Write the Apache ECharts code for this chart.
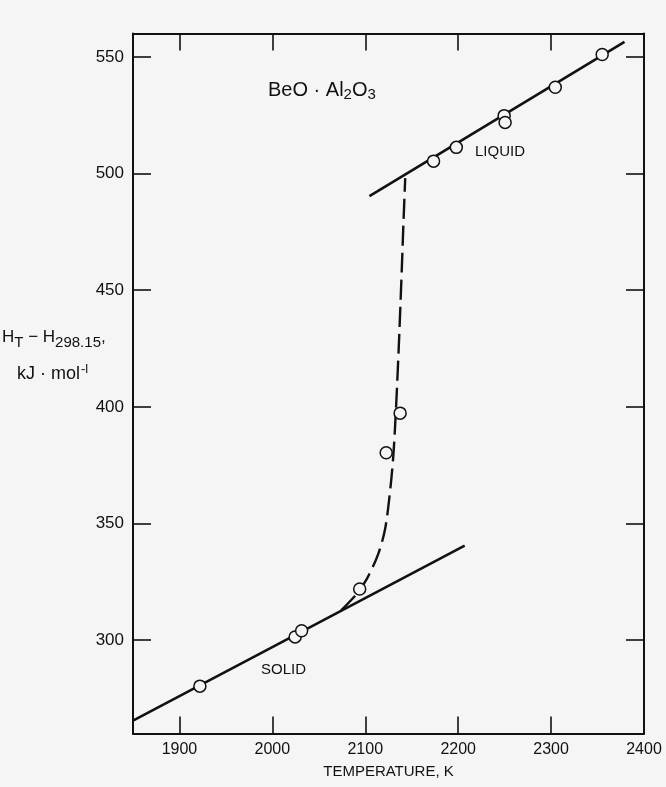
<!DOCTYPE html>
<html>
<head>
<meta charset="utf-8">
<script src="https://cdn.jsdelivr.net/npm/echarts@6/dist/echarts.min.js"></script>
<style>
  html, body { margin: 0; padding: 0; background: #f5f5f5; }
  #main { width: 666px; height: 787px; }
</style>
</head>
<body>
<div id="main"></div>
<script>
// temperature (K) and enthalpy (kJ/mol)
var xLabels = [1900, 2000, 2100, 2200, 2300, 2400];
var xTicks = [1900, 2000, 2100, 2200, 2300];
var yTicks = [300, 350, 400, 450, 500, 550];

var solidFit = [[1850, 265.5], [2207, 340.5]];
var liquidFit = [[2104.5, 490.3], [2379, 556.4]];

var solidT = [1922, 2024.5, 2031.5, 2094];
var solidH = [280.3, 301.4, 304, 321.9];
var meltT = [2122.5, 2137.5];
var meltH = [380.3, 397.3];
var liquidT = [2173.5, 2198, 2249.5, 2250.5, 2304.5, 2355];
var liquidH = [505.3, 511.2, 524.8, 521.9, 537, 551];

var curveT = [2074, 2090, 2102, 2114, 2121.5, 2127, 2130, 2132, 2134, 2136.5, 2139.4, 2141.2, 2143];
var curveH = [312.8, 319.5, 326.5, 337, 348, 365, 378, 391, 407, 430, 460, 480, 498];

function zip(a, b) {
  return a.map(function (v, i) { return [v, b[i]]; });
}

var ink = "#111111";
var bg = "#f5f5f5";
var font = "Liberation Sans";

var chart = echarts.init(document.getElementById("main"));

var pointStyle = {
  symbol: "circle",
  symbolSize: 12,
  itemStyle: { color: bg, borderColor: ink, borderWidth: 1.5, opacity: 1 }
};

var option = {
  backgroundColor: bg,
  animation: false,
  textStyle: { fontFamily: font, color: ink },
  grid: { left: 133, right: 22, top: 33.5, bottom: 53.5 },
  xAxis: [
    {
      type: "value",
      min: 1850,
      max: 2400,
      axisLine: { lineStyle: { color: ink, width: 2 } },
      axisTick: { inside: true, length: 17, customValues: xTicks, lineStyle: { color: ink, width: 1.6 } },
      axisLabel: {
        customValues: xLabels, margin: 8, fontSize: 16, color: ink, fontFamily: font,
        formatter: function (v) { return String(v); }
      },
      splitLine: { show: false },
      name: "TEMPERATURE, K",
      nameLocation: "middle",
      nameGap: 31,
      nameTextStyle: { fontSize: 15, color: ink, fontFamily: font }
    },
    {
      type: "value",
      position: "top",
      min: 1850,
      max: 2400,
      axisLine: { lineStyle: { color: ink, width: 2 } },
      axisTick: { inside: true, length: 17, customValues: xTicks, lineStyle: { color: ink, width: 1.6 } },
      axisLabel: { show: false },
      splitLine: { show: false }
    }
  ],
  yAxis: [
    {
      type: "value",
      min: 260,
      max: 560,
      axisLine: { show: true, lineStyle: { color: ink, width: 2 } },
      axisTick: { show: true, inside: true, length: 18, customValues: yTicks, lineStyle: { color: ink, width: 1.6 } },
      axisLabel: { customValues: yTicks, margin: 9, fontSize: 17, color: ink, fontFamily: font },
      splitLine: { show: false }
    },
    {
      type: "value",
      position: "right",
      min: 260,
      max: 560,
      axisLine: { show: true, lineStyle: { color: ink, width: 2 } },
      axisTick: { show: true, inside: true, length: 18, customValues: yTicks, lineStyle: { color: ink, width: 1.6 } },
      axisLabel: { show: false },
      splitLine: { show: false }
    }
  ],
  graphic: [
    {
      type: "text",
      left: 268,
      top: 80,
      style: {
        text: "{a|BeO · Al}{s|2}{a|O}{s|3}",
        fill: ink,
        rich: {
          a: { fontSize: 20, fontFamily: font, fill: ink },
          s: { fontSize: 15, fontFamily: font, fill: ink, padding: [10, 0, 0, 0] }
        }
      }
    },
    {
      type: "text",
      left: 475,
      top: 144,
      style: { text: "LIQUID", fontSize: 15, fontFamily: font, fill: ink }
    },
    {
      type: "text",
      left: 261,
      top: 662,
      style: { text: "SOLID", fontSize: 15, fontFamily: font, fill: ink }
    },
    {
      type: "text",
      left: 2,
      top: 329,
      style: {
        text: "{a|H}{s|T}{a| − H}{s|298.15}{a|,}",
        fill: ink,
        rich: {
          a: { fontSize: 17, fontFamily: font, fill: ink },
          s: { fontSize: 15, fontFamily: font, fill: ink, padding: [10, 0, 0, 0] }
        }
      }
    },
    {
      type: "text",
      left: 17,
      top: 363,
      style: {
        text: "{a|kJ · mol}{p|-l}",
        fill: ink,
        rich: {
          a: { fontSize: 18, fontFamily: font, fill: ink },
          p: { fontSize: 13, fontFamily: font, fill: ink, padding: [0, 0, 10, 1] }
        }
      }
    }
  ],
  series: [
    {
      type: "line",
      data: solidFit,
      symbol: "none",
      lineStyle: { color: ink, width: 2.6 },
      z: 2
    },
    {
      type: "line",
      data: liquidFit,
      symbol: "none",
      lineStyle: { color: ink, width: 2.6 },
      z: 2
    },
    {
      type: "line",
      data: zip(curveT, curveH),
      symbol: "none",
      smooth: 0.3,
      lineStyle: { color: ink, width: 2.4, type: [20, 7] },
      z: 2
    },
    Object.assign({ type: "scatter", data: zip(solidT, solidH), z: 5 }, pointStyle),
    Object.assign({ type: "scatter", data: zip(meltT, meltH), z: 5 }, pointStyle),
    Object.assign({ type: "scatter", data: zip(liquidT, liquidH), z: 5 }, pointStyle)
  ]
};

chart.setOption(option);
</script>
</body>
</html>
